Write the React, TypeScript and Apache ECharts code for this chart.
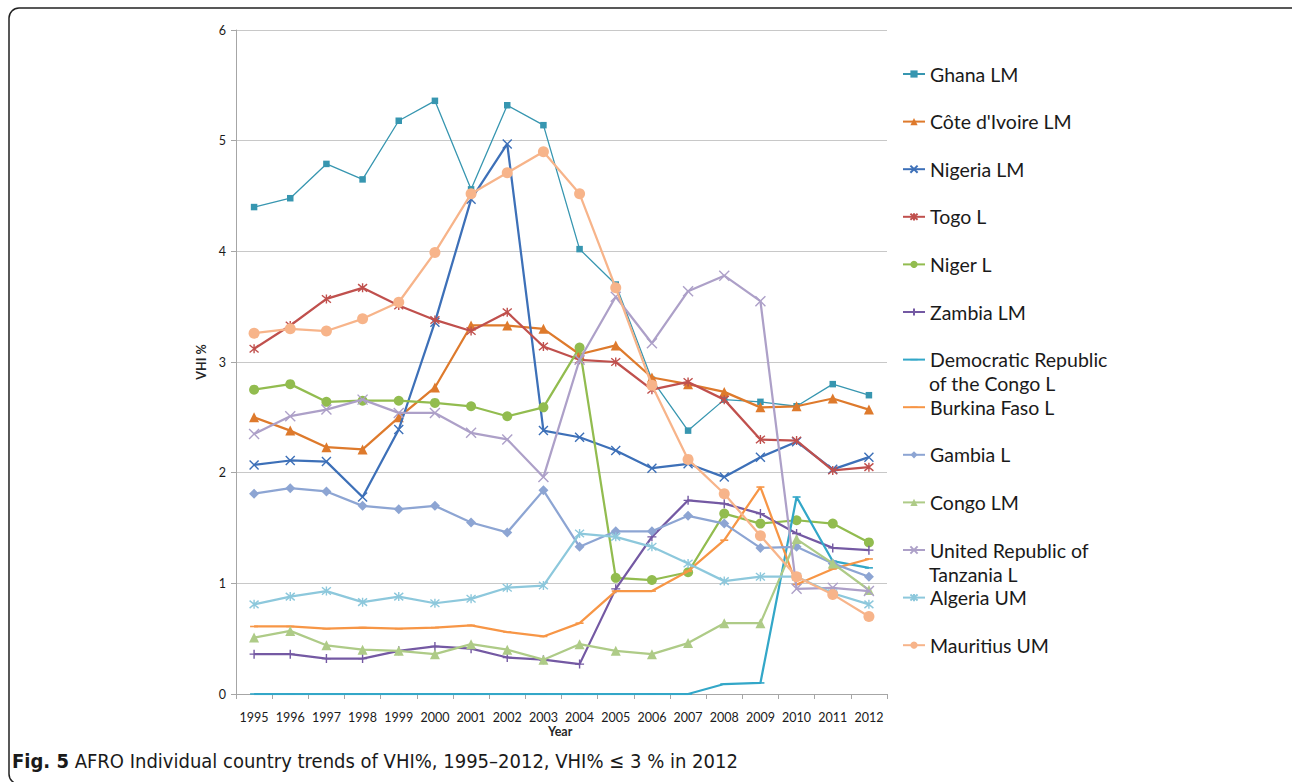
import React, { useEffect, useRef } from "react";
import * as echarts from "echarts";

const years = ["1995","1996","1997","1998","1999","2000","2001","2002","2003","2004","2005","2006","2007","2008","2009","2010","2011","2012"];
const yTicks = [0, 1, 2, 3, 4, 5, 6];

const ghana = [4.40, 4.48, 4.79, 4.65, 5.18, 5.36, 4.56, 5.32, 5.14, 4.02, 3.70, 2.84, 2.38, 2.66, 2.64, 2.60, 2.80, 2.70];
const coteDIvoire = [2.50, 2.38, 2.23, 2.21, 2.50, 2.77, 3.33, 3.33, 3.30, 3.07, 3.15, 2.86, 2.80, 2.73, 2.59, 2.60, 2.67, 2.57];
const nigeria = [2.07, 2.11, 2.10, 1.78, 2.39, 3.36, 4.47, 4.97, 2.38, 2.32, 2.20, 2.04, 2.08, 1.96, 2.14, 2.28, 2.03, 2.14];
const togo = [3.12, 3.33, 3.57, 3.67, 3.51, 3.38, 3.28, 3.45, 3.14, 3.02, 3.00, 2.75, 2.82, 2.66, 2.30, 2.29, 2.02, 2.05];
const niger = [2.75, 2.80, 2.64, 2.65, 2.65, 2.63, 2.60, 2.51, 2.59, 3.13, 1.05, 1.03, 1.10, 1.63, 1.54, 1.57, 1.54, 1.37];
const zambia = [0.36, 0.36, 0.32, 0.32, 0.39, 0.43, 0.41, 0.33, 0.31, 0.27, 0.95, 1.42, 1.75, 1.72, 1.63, 1.45, 1.32, 1.30];
const drc = [0, 0, 0, 0, 0, 0, 0, 0, 0, 0, 0, 0, 0, 0.09, 0.10, 1.78, 1.20, 1.14];
const burkinaFaso = [0.61, 0.61, 0.59, 0.60, 0.59, 0.60, 0.62, 0.56, 0.52, 0.64, 0.93, 0.93, 1.11, 1.39, 1.87, 0.99, 1.13, 1.22];
const gambia = [1.81, 1.86, 1.83, 1.70, 1.67, 1.70, 1.55, 1.46, 1.84, 1.33, 1.47, 1.47, 1.61, 1.54, 1.32, 1.33, 1.18, 1.06];
const congo = [0.51, 0.57, 0.44, 0.40, 0.39, 0.36, 0.45, 0.40, 0.31, 0.45, 0.39, 0.36, 0.46, 0.64, 0.64, 1.40, 1.18, 0.94];
const tanzania = [2.35, 2.51, 2.57, 2.66, 2.54, 2.54, 2.36, 2.30, 1.96, 3.02, 3.59, 3.17, 3.64, 3.78, 3.55, 0.95, 0.96, 0.93];
const algeria = [0.81, 0.88, 0.93, 0.83, 0.88, 0.82, 0.86, 0.96, 0.98, 1.45, 1.42, 1.33, 1.18, 1.02, 1.06, 1.06, 0.91, 0.81];
const mauritius = [3.26, 3.30, 3.28, 3.39, 3.54, 3.99, 4.52, 4.71, 4.90, 4.52, 3.67, 2.79, 2.12, 1.81, 1.43, 1.06, 0.90, 0.70];

const seriesNames = [
  "Ghana LM",
  "Côte d'Ivoire LM",
  "Nigeria LM",
  "Togo L",
  "Niger L",
  "Zambia LM",
  "Democratic Republic of the Congo L",
  "Burkina Faso L",
  "Gambia L",
  "Congo LM",
  "United Republic of Tanzania L",
  "Algeria UM",
  "Mauritius UM",
];
const seriesValues = [ghana, coteDIvoire, nigeria, togo, niger, zambia, drc, burkinaFaso, gambia, congo, tanzania, algeria, mauritius];

const X_PATH = "path://M0,0L10,10M10,0L0,10";
const STAR_PATH = "path://M0,0L10,10M10,0L0,10M5,-1L5,11";
const PLUS_PATH = "path://M5,0L5,10M0,5L10,5";
const DASH_PATH = "path://M0,0L0,0M0,4L10,4L10,6L0,6ZM10,10L10,10";

const styles = [
  { color: "#3796B0", symbol: "rect", size: 6.5, width: 1.3, stroke: false },
  { color: "#DE7A2C", symbol: "triangle", size: 10, width: 2.25, stroke: false },
  { color: "#3D70B8", symbol: X_PATH, size: 9, width: 2.25, stroke: true },
  { color: "#C0504D", symbol: STAR_PATH, size: 9, width: 2.25, stroke: true },
  { color: "#92BC4F", symbol: "circle", size: 10, width: 2.25, stroke: false },
  { color: "#7459A3", symbol: PLUS_PATH, size: 9, width: 2.25, stroke: true },
  { color: "#33A7C8", symbol: DASH_PATH, size: 8, width: 2.25, stroke: false },
  { color: "#F79646", symbol: DASH_PATH, size: 8, width: 2.25, stroke: false },
  { color: "#8DA5D3", symbol: "diamond", size: 10, width: 2.25, stroke: false },
  { color: "#AECB87", symbol: "triangle", size: 10, width: 2.25, stroke: false },
  { color: "#ADA0C8", symbol: X_PATH, size: 10, width: 2.25, stroke: true },
  { color: "#8DC8DC", symbol: STAR_PATH, size: 9, width: 2.25, stroke: true },
  { color: "#F7B48A", symbol: "circle", size: 11, width: 2.25, stroke: false },
];

const legendFirstLine: Record<string, string> = {
  "Democratic Republic of the Congo L": "Democratic Republic",
  "United Republic of Tanzania L": "United Republic of",
};

const FONT = "Lato, 'Open Sans', sans-serif";
const CAPTION_FONT = "'Liberation Sans Narrow', 'DejaVu Sans Condensed', 'Liberation Sans', sans-serif";

export default function App() {
  const ref = useRef<HTMLDivElement>(null);

  useEffect(() => {
    if (!ref.current) return;
    const chart = echarts.init(ref.current, undefined, { renderer: "svg" });

    const legendY0 = 75;
    const legendStep = 47.6;

    const series = seriesNames.map((name, i) => {
      const s = styles[i];
      return {
        name,
        type: "line",
        data: seriesValues[i],
        symbol: s.symbol,
        symbolSize: s.size,
        showAllSymbol: true,
        lineStyle: { color: s.color, width: s.width },
        itemStyle: s.stroke
          ? { color: s.color, borderColor: s.color, borderWidth: 1.4 }
          : { color: s.color, borderWidth: 0 },
        emphasis: { disabled: true },
        z: 2 + i,
      };
    });

    const legends = seriesNames.map((name, i) => ({
      data: [name],
      left: 902,
      top: legendY0 + i * legendStep - 11,
      padding: 0,
      orient: "vertical",
      itemWidth: 22,
      itemHeight: 9,
      itemGap: 0,
      selectedMode: false,
      formatter: (n: string) => legendFirstLine[n] || n,
      textStyle: { fontFamily: FONT, fontSize: 19.5, color: "#1a1a1a" },
    }));

    chart.setOption({
      animation: false,
      backgroundColor: "#ffffff",
      grid: { left: 236, right: 405, top: 30, bottom: 88 },
      xAxis: {
        type: "category",
        data: years,
        boundaryGap: true,
        axisLine: { lineStyle: { color: "#A6A6A6", width: 1 } },
        axisTick: { show: true, alignWithLabel: false, length: 5, lineStyle: { color: "#A6A6A6" } },
        axisLabel: { fontFamily: FONT, fontSize: 12.5, color: "#1a1a1a", margin: 17, interval: 0 },
      },
      yAxis: {
        type: "value",
        min: yTicks[0],
        max: yTicks[yTicks.length - 1],
        interval: 1,
        name: "VHI %",
        nameLocation: "middle",
        nameRotate: 90,
        nameGap: 28,
        nameTextStyle: { fontFamily: FONT, fontSize: 12.5, fontWeight: "bold", color: "#262626" },
        axisLine: { show: true, lineStyle: { color: "#A6A6A6", width: 1 } },
        axisTick: { show: true, length: 5, lineStyle: { color: "#A6A6A6" } },
        axisLabel: { fontFamily: FONT, fontSize: 12.5, color: "#1a1a1a", margin: 10 },
        splitLine: { show: true, lineStyle: { color: "#C8C8C8", width: 1 } },
      },
      legend: legends,
      series,
      graphic: [
        {
          type: "rect",
          shape: { x: 9, y: 8, width: 1300, height: 776, r: 10 },
          style: { fill: "none", stroke: "#222222", lineWidth: 1.5 },
          silent: true,
          z: 0,
        },
        {
          type: "text",
          left: 548,
          top: 725,
          style: { text: "Year", fontFamily: FONT, fontSize: 12.5, fontWeight: "bold", fill: "#262626" },
          silent: true,
        },
        {
          type: "text",
          left: 929,
          top: legendY0 + 6 * legendStep + 13,
          style: { text: "of the Congo L", fontFamily: FONT, fontSize: 19.5, fill: "#1a1a1a" },
          silent: true,
        },
        {
          type: "text",
          left: 929,
          top: legendY0 + 10 * legendStep + 13,
          style: { text: "Tanzania L", fontFamily: FONT, fontSize: 19.5, fill: "#1a1a1a" },
          silent: true,
        },
        {
          type: "text",
          left: 12,
          top: 751,
          style: {
            text: "{b|Fig. 5} AFRO Individual country trends of VHI%, 1995–2012, VHI% ≤ 3 % in 2012",
            fontFamily: CAPTION_FONT,
            fontSize: 20,
            fill: "#1a1a1a",
            rich: {
              b: {
                fontFamily: CAPTION_FONT,
                fontSize: 20,
                fontWeight: "bold",
                fill: "#1a1a1a",
              },
            },
          },
          silent: true,
        },
      ],
    });

    return () => {
      chart.dispose();
    };
  }, []);

  return (
    <div
      ref={ref}
      style={{ position: "absolute", left: 0, top: 0, width: 1292, height: 782, background: "#fff" }}
    />
  );
}
